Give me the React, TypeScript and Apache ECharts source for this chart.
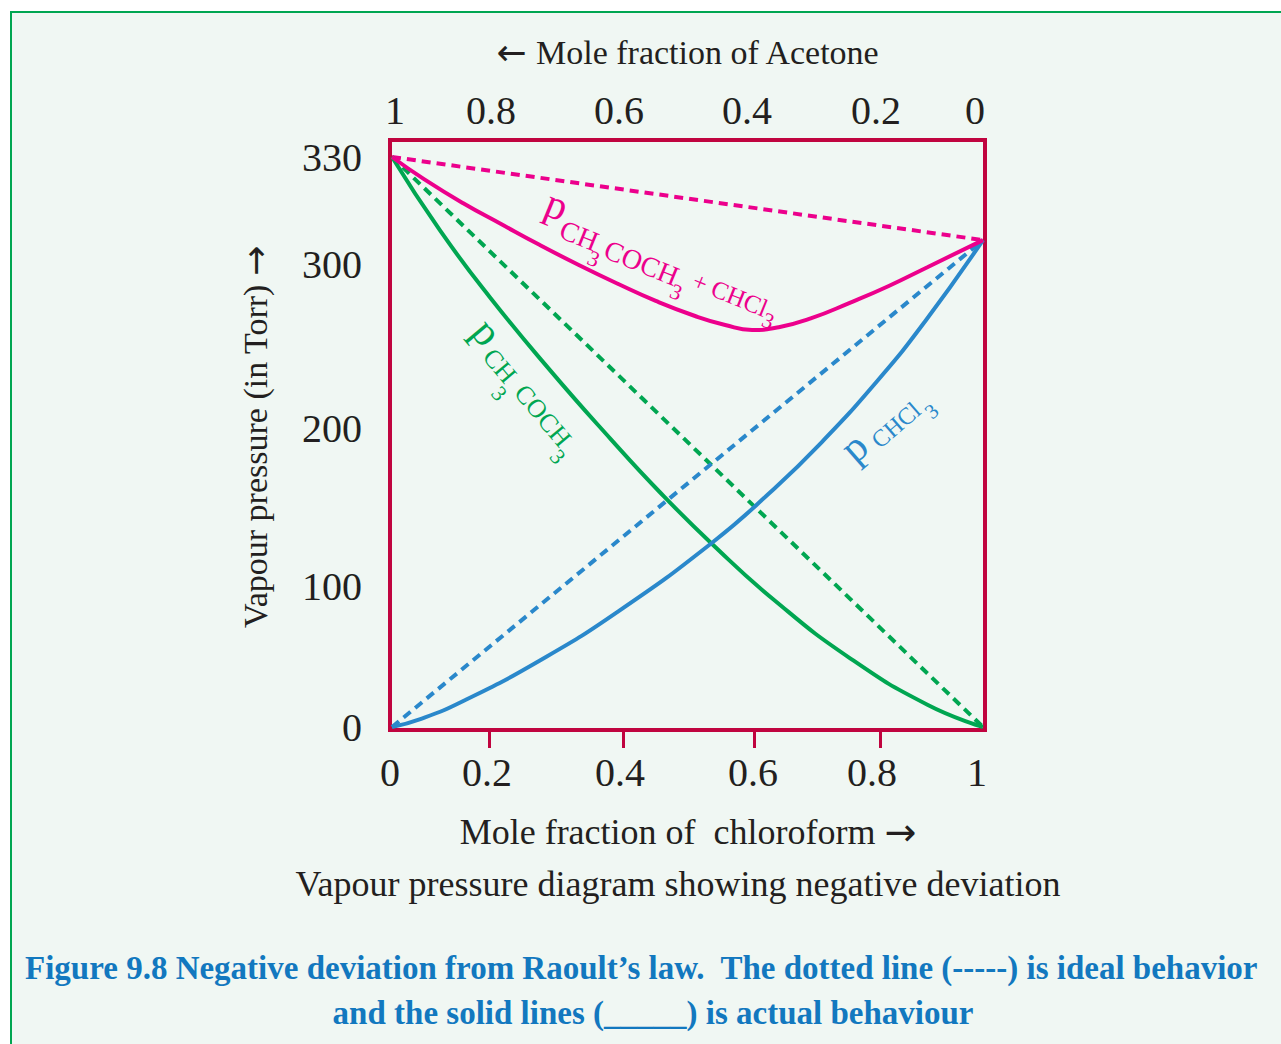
import React, { useEffect, useRef } from "react";
import * as echarts from "echarts";

// ---- Data: mole fraction of chloroform (x) vs vapour pressure in Torr ----
const totalX = [0, 0.066, 0.146, 0.218, 0.276, 0.334, 0.393, 0.45, 0.51, 0.556, 0.597, 0.641, 0.69, 0.752, 0.817, 0.893, 1];
const totalP = [330, 323.8, 317.1, 311.2, 305.3, 299.4, 287.8, 277.5, 268.3, 262.8, 259.8, 261.6, 266.8, 276.3, 286.6, 298.2, 306.7];

const acetoneX = [0, 0.099, 0.201, 0.291, 0.381, 0.456, 0.536, 0.63, 0.752, 0.893, 1];
const acetoneP = [330, 309.4, 279.9, 235.3, 193.3, 159.5, 126.6, 90.8, 48.9, 15.6, 0];

const chloroformX = [0, 0.06, 0.146, 0.276, 0.393, 0.536, 0.625, 0.705, 0.797, 0.887, 1];
const chloroformP = [0, 5.8, 18.3, 47.2, 82.0, 127.4, 159.0, 190.0, 229.3, 264.8, 306.7];

const idealX = [0, 1];
const idealTotalP = [330, 306.7];
const idealAcetoneP = [330, 0];
const idealChloroformP = [0, 306.7];

// tick labels
const xTicks = [0, 0.2, 0.4, 0.6, 0.8, 1];
const yTicks = [0, 100, 200, 300, 330];

// ---- axis calibration of the (hand-drawn, non-uniform) scales ----
const xTickCols = [2, 99, 233, 364, 490, 593];
const xBottomLabelCols = [0, 97, 230, 363, 482, 587];
const xTopLabelCols = [5, 101, 229, 357, 486, 585];
const yTickRows = [3, 144, 302, 466, 573];
const X_SPAN = 595;
const Y_SPAN = 590;

function interp(v: number, from: number[], to: number[]) {
  const n = from.length;
  if (v <= from[0]) return to[0] + ((v - from[0]) / (from[1] - from[0])) * (to[1] - to[0]);
  for (let i = 0; i < n - 1; i++) {
    if (v <= from[i + 1]) {
      return to[i] + ((v - from[i]) / (from[i + 1] - from[i])) * (to[i + 1] - to[i]);
    }
  }
  return to[n - 2] + ((v - from[n - 2]) / (from[n - 1] - from[n - 2])) * (to[n - 1] - to[n - 2]);
}
const toX = (f: number) => interp(f, xTicks, xTickCols);
const toY = (p: number) => interp(p, yTicks, yTickRows);
const pts = (xs: number[], ys: number[]) => xs.map((x, i) => [toX(x), toY(ys[i])]);

const PINK = "#ec008c";
const GREEN = "#00a651";
const BLUE = "#2a88cb";
const FRAME = "#c0043f";
const INK = "#231f20";
const SERIF = '"Liberation Serif", "Times New Roman", serif';
const ARROWFONT = '"DejaVu Sans", sans-serif';

function part(text: string, x: number, y: number, size: number, color: string) {
  return {
    type: "text",
    x,
    y,
    style: { text, fontSize: size, fontFamily: SERIF, fill: color, align: "center", verticalAlign: "middle" },
  };
}

function title(text: string, x: number, y: number, size: number, rotation = 0) {
  return {
    type: "text",
    x,
    y,
    rotation,
    style: {
      text,
      fontSize: size,
      fontFamily: SERIF,
      fill: INK,
      align: "center",
      verticalAlign: "middle",
      rich: {
        ar: { fontFamily: ARROWFONT, fontSize: size + 2, fill: INK },
        t: { fontFamily: SERIF, fontSize: size, fill: INK },
      },
    },
  };
}

export default function App() {
  const ref = useRef<HTMLDivElement>(null);
  useEffect(() => {
    if (!ref.current) return;
    const chart = echarts.init(ref.current, undefined, { renderer: "svg" });
    const deg = Math.PI / 180;
    const tickLabel = { fontSize: 40, fontFamily: SERIF, color: INK };
    const curve = (name: string, xs: number[], ys: number[], color: string) => ({
      name,
      type: "line",
      smooth: 0.5,
      data: pts(xs, ys),
      showSymbol: false,
      lineStyle: { color, width: 4 },
    });
    const ideal = (name: string, ys: number[], color: string) => ({
      name,
      type: "line",
      data: pts(idealX, ys),
      showSymbol: false,
      lineStyle: { color, width: 4, type: [9, 6] },
    });
    const option: any = {
      animation: false,
      backgroundColor: "#ffffff",
      grid: {
        left: 390,
        top: 140,
        width: X_SPAN,
        height: Y_SPAN,
        show: true,
        borderColor: FRAME,
        borderWidth: 4,
        backgroundColor: "transparent",
        containLabel: false,
      },
      xAxis: [
        {
          type: "value",
          position: "bottom",
          min: 0,
          max: X_SPAN,
          axisLine: { show: false },
          splitLine: { show: false },
          axisTick: {
            show: true,
            customValues: xTickCols.slice(1, 5),
            length: 18,
            lineStyle: { color: FRAME, width: 3 },
          },
          axisLabel: {
            ...tickLabel,
            customValues: xBottomLabelCols,
            margin: 22,
            formatter: (v: number) => {
              const i = xBottomLabelCols.indexOf(v);
              return i >= 0 ? String(xTicks[i]) : "";
            },
          },
        },
        {
          type: "value",
          position: "top",
          min: 0,
          max: X_SPAN,
          axisLine: { show: false },
          splitLine: { show: false },
          axisTick: { show: false },
          axisLabel: {
            ...tickLabel,
            customValues: xTopLabelCols,
            margin: 10,
            formatter: (v: number) => {
              const i = xTopLabelCols.indexOf(v);
              return i >= 0 ? String(+(1 - xTicks[i]).toFixed(1)) : "";
            },
          },
        },
      ],
      yAxis: {
        type: "value",
        min: 0,
        max: Y_SPAN,
        axisLine: { show: false },
        splitLine: { show: false },
        axisTick: { show: false },
        axisLabel: {
          ...tickLabel,
          customValues: yTickRows,
          margin: 28,
          formatter: (v: number) => {
            const i = yTickRows.indexOf(v);
            return i >= 0 ? String(yTicks[i]) : "";
          },
        },
      },
      series: [
        ideal("ideal total", idealTotalP, PINK),
        ideal("ideal acetone", idealAcetoneP, GREEN),
        ideal("ideal chloroform", idealChloroformP, BLUE),
        curve("acetone", acetoneX, acetoneP, GREEN),
        curve("chloroform", chloroformX, chloroformP, BLUE),
        curve("total", totalX, totalP, PINK),
      ],
      graphic: [
        {
          type: "rect",
          z: -10,
          shape: { x: 11, y: 12, width: 1320, height: 1100 },
          style: { fill: "#f0f7f3", stroke: "#00a651", lineWidth: 2 },
        },
        title("{ar|←}{t| Mole fraction of Acetone}", 688, 52, 34),
        title("{t|Mole fraction of  chloroform }{ar|→}", 688, 832, 36),
        title("{t|Vapour pressure (in Torr) }{ar|→}", 255, 437, 34, Math.PI / 2),
        {
          type: "text",
          x: 678,
          y: 884,
          style: { text: "Vapour pressure diagram showing negative deviation", fontSize: 36, fontFamily: SERIF, fill: INK, align: "center", verticalAlign: "middle" },
        },
        {
          type: "text",
          x: 25,
          y: 968,
          style: {
            text: "Figure 9.8 Negative deviation from Raoult’s law.  The dotted line (-----) is ideal behavior",
            fontSize: 33,
            fontWeight: "bold",
            fontFamily: SERIF,
            fill: "#1278bf",
            align: "left",
            verticalAlign: "middle",
          },
        },
        {
          type: "text",
          x: 653,
          y: 1013,
          style: {
            text: "and the solid lines (_____) is actual behaviour",
            fontSize: 33,
            fontWeight: "bold",
            fontFamily: SERIF,
            fill: "#1278bf",
            align: "center",
            verticalAlign: "middle",
          },
        },
        // pink curve label
        {
          type: "group",
          x: 557,
          y: 205,
          rotation: -22 * deg,
          children: [
            part("p", 0, 0, 42, PINK),
            part("CH", 32, 20, 28, PINK),
            part("3", 54, 36, 22, PINK),
            part("COCH", 100, 22, 28, PINK),
            part("3", 143, 36, 22, PINK),
            part("+ CHCl", 194, 18, 25, PINK),
            part("3", 239, 28, 22, PINK),
          ],
        },
        // green curve label
        {
          type: "group",
          x: 487,
          y: 332,
          rotation: -50 * deg,
          children: [
            part("p", 0, 0, 42, GREEN),
            part("CH", 34, 12, 26, GREEN),
            part("3", 55, 30, 22, GREEN),
            part("COCH", 100, 11, 26, GREEN),
            part("3", 141, 26, 22, GREEN),
          ],
        },
        // blue curve label
        {
          type: "group",
          x: 854,
          y: 447,
          rotation: 41 * deg,
          children: [
            part("p", 0, 0, 42, BLUE),
            part("CHCl", 46, 11, 24, BLUE),
            part("3", 82, 24, 21, BLUE),
          ],
        },
      ],
    };
    chart.setOption(option);
    return () => chart.dispose();
  }, []);
  return (
    <div
      ref={ref}
      style={{ position: "absolute", left: 0, top: 0, width: 1281, height: 1044 }}
    />
  );
}
